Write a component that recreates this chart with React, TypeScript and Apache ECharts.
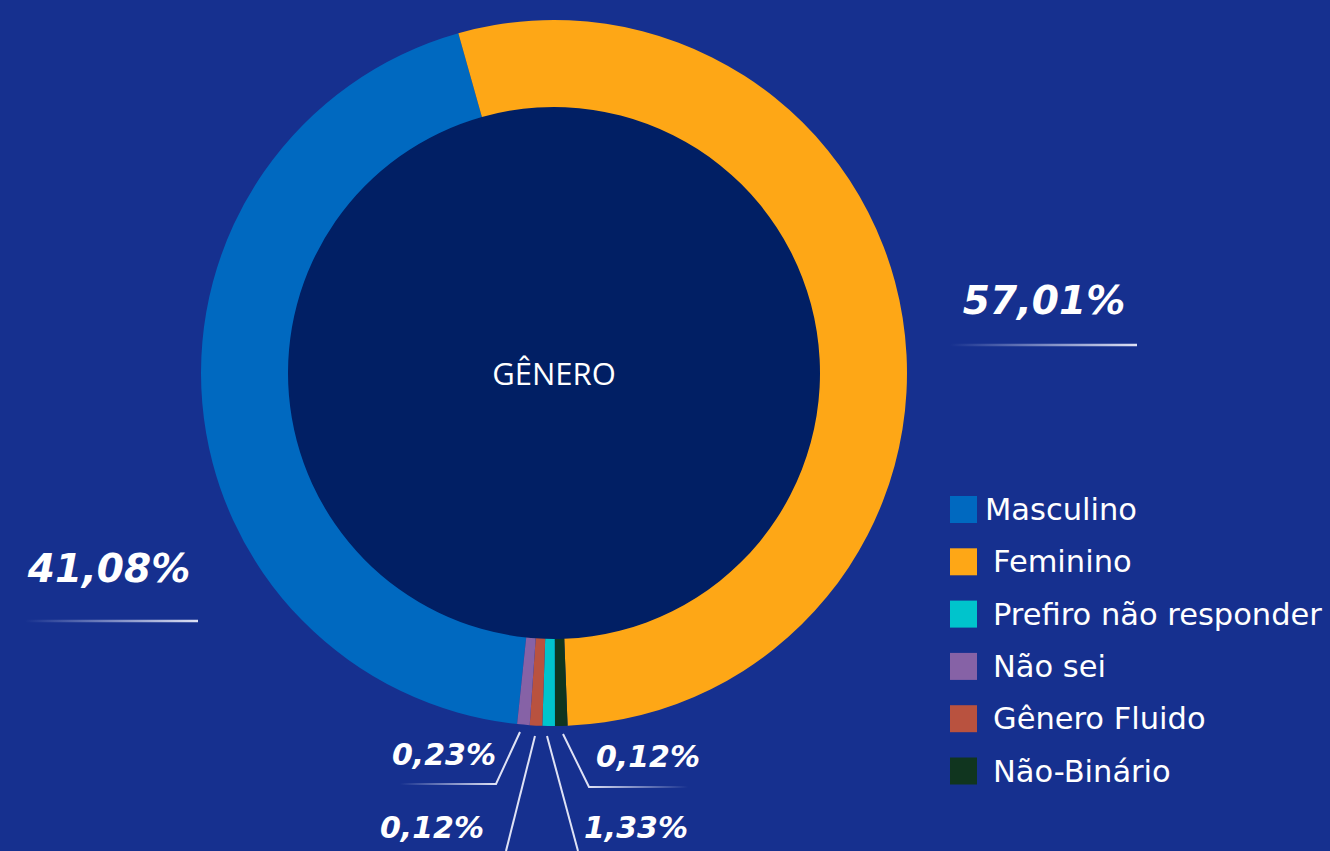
import React, { useEffect, useRef } from 'react';
import * as echarts from 'echarts';

// Slices in clockwise drawing order (starting at the bottom-left of the ring)
const categories = ['Masculino', 'Feminino', 'Não-Binário', 'Prefiro não responder', 'Gênero Fluido', 'Não sei'];
// Share of the ring each slice occupies (%)
const sliceShares = [43.97, 53.76, 0.57, 0.57, 0.57, 0.57];
// Percentages printed next to each slice
const printedPercents = [41.08, 57.01, 0.12, 1.33, 0.12, 0.23];
// Legend order as shown
const legendOrder = ['Masculino', 'Feminino', 'Prefiro não responder', 'Não sei', 'Gênero Fluido', 'Não-Binário'];
const centerTitle = 'GÊNERO';

const sliceColors = ['#0069c0', '#fea716', '#10351f', '#00c4cc', '#b9523f', '#8662a6'];

// Label placement (layout only): text centre, font size, leader line, fade direction [transparentX, opaqueX]
const labelPlacement: any[] = [
  { x: 109, y: 568, size: 39, w: 2.5, line: [[25, 621], [110, 621], [198, 621]], fade: [25, 198] },
  { x: 1044, y: 300, size: 39, w: 2.5, line: [[950, 345], [1040, 345], [1137, 345]], fade: [950, 1137] },
  { x: 648, y: 756, size: 30, w: 2, line: [[563, 734], [589, 787], [688, 787]], fade: [688, 589] },
  { x: 636, y: 827, size: 30, w: 2, line: [[547, 736], [578, 851], [578, 851]], fade: null },
  { x: 432, y: 827, size: 30, w: 2, line: [[535, 736], [506, 851], [506, 851]], fade: null },
  { x: 444, y: 754, size: 30, w: 2, line: [[520, 732], [496, 784], [400, 784]], fade: [400, 496] },
];

const LINE_COLOR = '#dfe2f5';

function fmtPct(v: number) {
  return v.toFixed(2).replace('.', ',') + '%';
}

export default function App() {
  const ref = useRef<HTMLDivElement>(null);

  useEffect(() => {
    if (!ref.current) return;
    const chart = echarts.init(ref.current, null, { renderer: 'svg' });

    const data = categories.map((name, i) => {
      const p = labelPlacement[i];
      const lineColor = p.fade
        ? new echarts.graphic.LinearGradient(
            p.fade[0], 0, p.fade[1], 0,
            [
              { offset: 0, color: 'rgba(223,226,245,0)' },
              { offset: 1, color: LINE_COLOR },
            ],
            true
          )
        : LINE_COLOR;
      return {
        name,
        value: sliceShares[i],
        itemStyle: { color: sliceColors[i] },
        label: { fontSize: p.size },
        labelLine: { show: true, lineStyle: { color: lineColor, width: p.w } },
      };
    });

    const legendFont = { color: '#ffffff', fontFamily: 'DejaVu Sans', fontSize: 30.5, lineHeight: 27 };

    const option: any = {
      animation: false,
      backgroundColor: '#16308f',
      legend: {
        orient: 'vertical',
        left: 945,
        top: 489,
        data: legendOrder,
        icon: 'rect',
        itemWidth: 27,
        itemHeight: 27,
        itemGap: 21.3,
        selectedMode: false,
        formatter: (name: string) => (name === 'Masculino' ? `{m|${name}}` : `{o|${name}}`),
        textStyle: {
          ...legendFont,
          rich: {
            m: { ...legendFont, padding: [0, 0, 0, 3] },
            o: { ...legendFont, padding: [0, 0, 0, 11] },
          },
        },
      },
      series: [
        {
          type: 'pie',
          name: 'disc',
          center: [554, 373],
          radius: [0, 268],
          silent: true,
          z: 1,
          emphasis: { disabled: true },
          itemStyle: { color: '#011f64' },
          label: {
            show: true,
            position: 'center',
            formatter: '{b}',
            color: '#ffffff',
            fontFamily: 'Open Sans',
            fontSize: 31,
          },
          labelLine: { show: false },
          data: [{ value: 1, name: centerTitle }],
        },
        {
          type: 'pie',
          name: 'Gênero',
          center: [554, 373],
          radius: [266, 353],
          startAngle: 264,
          clockwise: true,
          z: 2,
          silent: true,
          avoidLabelOverlap: false,
          emphasis: { disabled: true },
          itemStyle: { borderWidth: 0 },
          label: {
            show: true,
            position: 'outside',
            color: '#ffffff',
            fontFamily: 'DejaVu Sans',
            fontWeight: 'bold',
            fontStyle: 'italic',
            formatter: (p: any) => fmtPct(printedPercents[p.dataIndex]),
          },
          labelLine: { show: true, smooth: false },
          labelLayout: (params: any) => {
            const p = labelPlacement[params.dataIndex];
            return {
              x: p.x,
              y: p.y,
              align: 'center',
              verticalAlign: 'middle',
              labelLinePoints: p.line,
            };
          },
          data,
        },
      ],
    };

    chart.setOption(option);
    return () => chart.dispose();
  }, []);

  return (
    <div
      ref={ref}
      style={{ position: 'fixed', left: 0, top: 0, width: 1330, height: 851 }}
    />
  );
}
